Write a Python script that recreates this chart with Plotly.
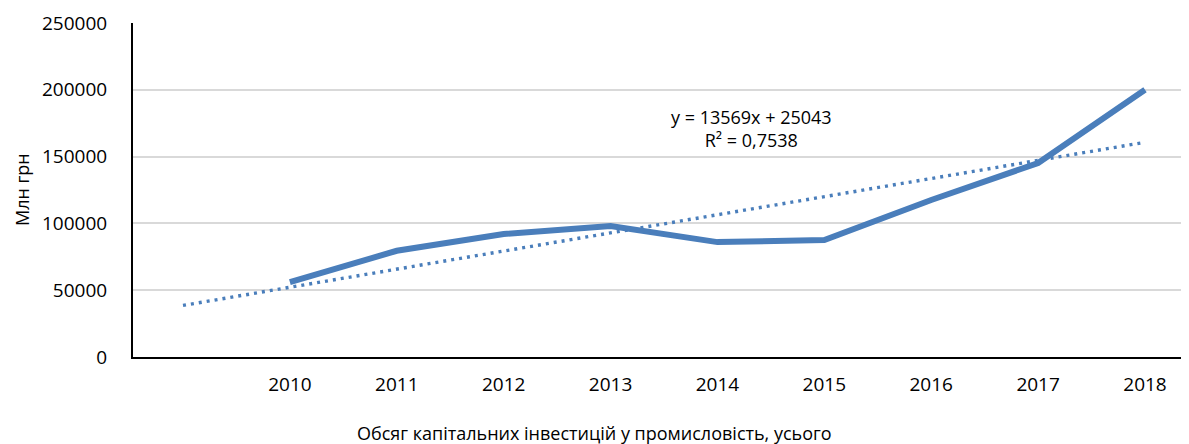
import plotly.graph_objects as go

# Data
categories = ["", "2010", "2011", "2012", "2013", "2014", "2015", "2016", "2017", "2018"]
values = [None, 56000, 79500, 92000, 98000, 86000, 87500, 117500, 145200, 200000]
trend_slope = 13569
trend_intercept = 25043
trend_r2 = "0,7538"

xs = list(range(len(categories)))
trend_y = [trend_slope * (i + 1) + trend_intercept for i in xs]

color = "#4a7ebb"
FONT = "Open Sans"
FS = 19

# page offset (body margin) compensation
OFF = 8
PL, PT, PB = 133, 23.3, 356.7  # plot area in page pixels
PR = 1189

fig = go.Figure()
fig.add_trace(go.Scatter(
    x=xs, y=trend_y, mode="lines",
    line=dict(color=color, width=3.4, dash="3px,5px"),
    hoverinfo="skip", showlegend=False,
))
fig.add_trace(go.Scatter(
    x=xs, y=values, mode="lines",
    line=dict(color=color, width=6),
    connectgaps=False, showlegend=False,
))

fig.add_annotation(
    x=(752 - 183) / 106.9, y=(PB - 129) / (PB - PT) * 250000, xref="x", yref="y",
    text="y = 13569x + 25043<br>R² = " + trend_r2,
    showarrow=False, font=dict(family=FONT, size=FS - 1, color="#000000"),
    align="center", xanchor="center", yanchor="middle",
)
fig.add_annotation(
    x=(594 - PL) / (PR - PL), y=(PB - 433) / (PB - PT), xref="paper", yref="paper",
    text="Обсяг капітальних інвестицій у промисловість, усього",
    showarrow=False, font=dict(family=FONT, size=FS - 1, color="#000000"),
    xanchor="center", yanchor="middle",
)
fig.add_annotation(
    x=(22 - PL) / (PR - PL), y=(PB - 190) / (PB - PT), xref="paper", yref="paper",
    text="Млн грн", textangle=-90,
    showarrow=False, font=dict(family=FONT, size=FS - 1, color="#000000"),
    xanchor="center", yanchor="middle",
)

fig.update_layout(
    width=1189 - OFF, height=444 - OFF,
    margin=dict(l=PL - OFF, r=0, t=PT - OFF, b=444 - PB),
    paper_bgcolor="white", plot_bgcolor="white",
    font=dict(family=FONT, size=FS, color="#000000"),
    xaxis=dict(
        range=[-50 / 106.9, 9 + 44 / 106.9],
        tickmode="array", tickvals=xs[1:], ticktext=categories[1:],
        showgrid=False, zeroline=False,
        showline=True, linecolor="#000000", linewidth=2,
        ticks="", ticklabelstandoff=9,
    ),
    yaxis=dict(
        range=[0, 250000], tickvals=[0, 50000, 100000, 150000, 200000, 250000],
        tickformat="d",
        showgrid=True, gridcolor="#d9d9d9", gridwidth=1.5,
        zeroline=False, showline=True, linecolor="#000000", linewidth=2,
        ticks="", ticklabelstandoff=20,
    ),
)

fig.write_html("out.html")
